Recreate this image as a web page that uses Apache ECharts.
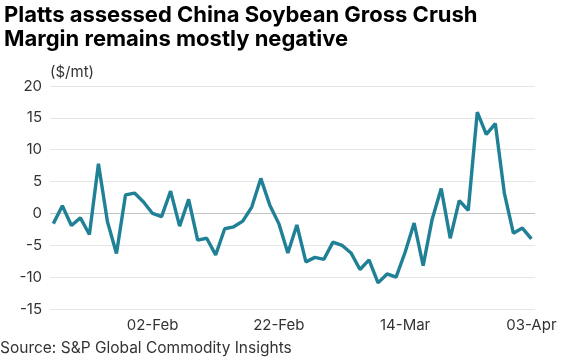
<!DOCTYPE html>
<html>
<head>
<meta charset="utf-8">
<script src="https://cdn.jsdelivr.net/npm/echarts@6/dist/echarts.min.js"></script>
<style>
html,body{margin:0;padding:0;background:#fff;}
#chart{width:571px;height:357px;}
</style>
</head>
<body>
<div id="chart"></div>
<script>
var dates = ['18-Jan','19-Jan','20-Jan','23-Jan','24-Jan','25-Jan','26-Jan','27-Jan','30-Jan','31-Jan',
  '01-Feb','02-Feb','03-Feb','06-Feb','07-Feb','08-Feb','09-Feb','10-Feb','13-Feb','14-Feb',
  '15-Feb','16-Feb','17-Feb','20-Feb','21-Feb','22-Feb','23-Feb','24-Feb','27-Feb','28-Feb',
  '01-Mar','02-Mar','03-Mar','06-Mar','07-Mar','08-Mar','09-Mar','10-Mar','13-Mar','14-Mar',
  '15-Mar','16-Mar','17-Mar','20-Mar','21-Mar','22-Mar','23-Mar','24-Mar','27-Mar','28-Mar',
  '29-Mar','30-Mar','31-Mar','03-Apr'];
var margin = [-1.6, 1.2, -1.9, -0.7, -3.3, 7.8, -1.3, -6.3, 2.9, 3.2,
  1.8, 0.0, -0.5, 3.5, -2.0, 2.2, -4.2, -3.9, -6.5, -2.4,
  -2.1, -1.2, 1.0, 5.5, 1.3, -1.6, -6.2, -1.8, -7.6, -6.9,
  -7.2, -4.5, -5.0, -6.2, -8.8, -7.3, -10.9, -9.5, -10.0, -6.1,
  -1.5, -8.2, -0.9, 3.9, -3.9, 2.0, 0.5, 15.9, 12.4, 14.1,
  3.2, -3.1, -2.3, -4.0];
var xTickLabels = ['02-Feb','22-Feb','14-Mar','03-Apr'];
var yTicks = [-15, -10, -5, 0, 5, 10, 15, 20];

var FONT = 'Inter, Roboto, "Liberation Sans", sans-serif';
var chart = echarts.init(document.getElementById('chart'), null, {renderer:'canvas'});
var seriesData = margin.map(function(v, i){ return [i, v]; });
var labelIdx = xTickLabels.map(function(d){ return dates.indexOf(d); });

chart.setOption({
  animation: false,
  backgroundColor: '#fff',
  title: {
    text: 'Platts assessed China Soybean Gross Crush\nMargin remains mostly negative',
    left: -1, top: -2,
    textStyle: {fontFamily: FONT, fontSize: 22, fontWeight: 'bold', color: '#000', lineHeight: 24}
  },
  graphic: [
    {type:'text', left: 50, top: 65, style:{text:'($/mt)', font:'15px ' + FONT, fill:'#333'}},
    {type:'text', left: 0, top: 340, style:{text:'Source: S&P Global Commodity Insights', font:'15.5px ' + FONT, fill:'#333'}}
  ],
  grid: {left: 50, right: 36, top: 86, bottom: 48, containLabel: false},
  xAxis: {
    type: 'value',
    min: -0.37, max: 53.4,
    axisLine: {show:false},
    axisTick: {show:false},
    splitLine: {show:false},
    axisLabel: {
      customValues: labelIdx,
      formatter: function(v){ return dates[Math.round(v)]; },
      fontFamily: FONT, fontSize: 15, color: '#333', margin: 9
    }
  },
  yAxis: {
    type: 'value',
    min: yTicks[0], max: yTicks[yTicks.length-1], interval: 5,
    axisLine: {show:false},
    axisTick: {show:false},
    axisLabel: {fontFamily: FONT, fontSize: 15, color: '#333', margin: 8},
    splitLine: {lineStyle: {color: ['#e6e6e6','#e6e6e6','#e6e6e6','#c4c4c4','#e6e6e6','#e6e6e6','#e6e6e6','#e6e6e6'], width: 1}}
  },
  series: [{
    type: 'line',
    data: seriesData,
    symbol: 'none',
    lineStyle: {color: '#1f8096', width: 3.4},
    itemStyle: {color: '#1f8096'}
  }]
});
</script>
</body>
</html>
